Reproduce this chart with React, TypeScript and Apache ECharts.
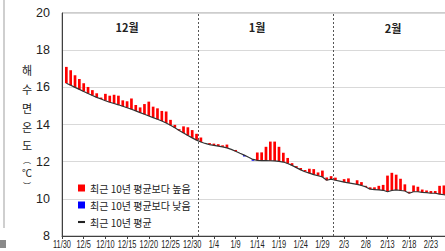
import React, { useEffect, useRef } from 'react';
import * as echarts from 'echarts';

// Day index 0 = 11/30, 1 = 12/1 ... 31 = 12/31, 32 = 1/1 ... 62 = 1/31, 63 = 2/1 ...
const dates: string[] = [
  '11/30',
  ...Array.from({ length: 31 }, (_, k) => `12/${k + 1}`),
  ...Array.from({ length: 31 }, (_, k) => `1/${k + 1}`),
  ...Array.from({ length: 29 }, (_, k) => `2/${k + 1}`),
];
const tickDays = [0, 5, 10, 15, 20, 25, 30, 35, 40, 45, 50, 55, 60, 65, 70, 75, 80, 85];

const monthLabels = ['12월', '1월', '2월'];
const monthBoundaries = [31.5, 62.5];

const legendNames = ['최근 10년 평균보다 높음', '최근 10년 평균보다 낮음', '최근 10년 평균'];
const yAxisNameChars = ['해', '수', '면', '온', '도', '︵', '℃', '︶'];

// 10-year mean, 12/1 .. 2/28
const meanDec = [16.22, 16.11, 16.0, 15.89, 15.78, 15.67, 15.56, 15.46, 15.37, 15.28, 15.2, 15.13, 15.06, 14.98, 14.9, 14.82, 14.73, 14.64, 14.55, 14.46, 14.37, 14.28, 14.19, 14.08, 13.96, 13.82, 13.68, 13.54, 13.41, 13.28, 13.16];
const meanJan = [13.06, 12.98, 12.92, 12.88, 12.84, 12.8, 12.74, 12.66, 12.56, 12.45, 12.35, 12.24, 12.12, 12.07, 12.06, 12.06, 12.05, 12.04, 12.02, 11.98, 11.9, 11.8, 11.68, 11.56, 11.46, 11.38, 11.3, 11.24, 11.18, 11.0, 11.06];
const meanFeb = [11.0, 10.95, 10.9, 10.86, 10.82, 10.78, 10.72, 10.64, 10.52, 10.5, 10.48, 10.46, 10.38, 10.45, 10.48, 10.45, 10.42, 10.3, 10.38, 10.38, 10.35, 10.33, 10.3, 10.3, 10.25, 10.22, 10.2, 10.2];

// observed SST, 12/1 .. 2/28
const sstDec = [17.1, 16.92, 16.65, 16.45, 16.22, 16.02, 15.85, 15.68, 15.45, 15.65, 15.55, 15.6, 15.55, 15.3, 15.25, 15.4, 15.05, 14.92, 15.1, 15.23, 14.96, 14.87, 14.73, 14.7, 14.25, 13.98, 13.75, 13.9, 13.85, 13.7, 13.5];
const sstJan = [13.3, 12.98, 13.0, 12.97, 12.94, 12.88, 12.92, 12.66, 12.63, 12.45, 12.28, 12.24, 12.05, 12.5, 12.5, 12.8, 13.08, 13.08, 12.8, 12.48, 12.2, 11.92, 11.76, 11.66, 11.55, 11.62, 11.6, 11.42, 11.52, 11.15, 11.22];
const sstFeb = [11.14, 10.95, 11.06, 11.1, 10.82, 11.0, 10.9, 10.7, 10.62, 10.62, 10.7, 10.75, 11.25, 11.4, 11.3, 11.08, 10.78, 10.38, 10.72, 10.65, 10.5, 10.45, 10.42, 10.42, 10.7, 10.72, 10.7, 10.65];

const meanAll = [...meanDec, ...meanJan, ...meanFeb];
const sstAll = [...sstDec, ...sstJan, ...sstFeb];

const KR = '"Noto Sans CJK KR", "Noto Sans", sans-serif';
const SANS = '"Liberation Sans", Arial, sans-serif';

export default function App() {
  const ref = useRef<HTMLDivElement>(null);
  useEffect(() => {
    if (!ref.current) return;
    const chart = echarts.init(ref.current, undefined, { renderer: 'svg' });
    const rows = meanAll.map((m, k) => [k + 1, m, sstAll[k]]);
    const high = rows.filter((r) => r[2] > r[1]);
    const low = rows.filter((r) => r[2] < r[1]);
    const renderBar = (color: string) => (params: any, api: any) => {
      const x = api.value(0);
      const p1 = api.coord([x, api.value(1)]);
      const p2 = api.coord([x, api.value(2)]);
      const w = api.size([1, 0])[0] * 0.62;
      return {
        type: 'rect',
        shape: { x: p1[0] - w / 2, y: Math.min(p1[1], p2[1]), width: w, height: Math.max(Math.abs(p2[1] - p1[1]), 1) },
        style: { fill: color },
      };
    };
    const renderTickLabel = (params: any, api: any) => {
      const i = api.value(0);
      const p = api.coord([i, api.value(1)]);
      return {
        type: 'text', x: p[0], y: p[1] + 4, scaleX: 0.74,
        style: { text: dates[i], fontSize: 10, fontFamily: SANS, fill: '#222', align: 'center', verticalAlign: 'top' },
      };
    };
    const textEl = (text: string, x: number, y: number, size: number, bold = false) => ({
      type: 'text', x, y,
      style: { text, fontSize: size, fontWeight: bold ? 'bold' : 'normal', fontFamily: KR, fill: '#222', align: 'center', verticalAlign: 'middle' },
    });
    const nameY = [70, 89, 108, 127, 145, 159.5, 172, 185];
    const nameSize = [11, 11, 11, 11, 11, 8, 10, 8];
    chart.setOption({
      animation: false,
      grid: { left: 62, top: 13, width: 95 * 4.34, height: 223, show: true, borderColor: '#9a9a9a', borderWidth: 1, backgroundColor: 'transparent' },
      xAxis: {
        type: 'value', min: 0, max: 95, interval: 5,
        axisLine: { show: true, lineStyle: { color: '#404040' } },
        axisTick: { show: true, length: 3, lineStyle: { color: '#404040' } },
        splitLine: { show: false },
        axisLabel: { show: false },
      },
      yAxis: {
        type: 'value', min: 8, max: 20, interval: 2,
        axisLine: { show: true, lineStyle: { color: '#404040' } },
        axisTick: { show: false },
        splitLine: { lineStyle: { color: '#d9d9d9' } },
        axisLabel: { fontSize: 12.5, color: '#222', margin: 12, fontFamily: SANS },
      },
      legend: {
        orient: 'vertical', left: 73, top: 178, itemWidth: 7, itemHeight: 7, itemGap: 7,
        textStyle: { fontSize: 10, color: '#222', fontFamily: KR },
        data: [
          { name: legendNames[0], icon: 'rect' },
          { name: legendNames[1], icon: 'rect' },
          { name: legendNames[2], icon: 'path://M0,0 L10,0 L10,3 L0,3 Z' },
        ],
      },
      series: [
        { name: legendNames[0], type: 'custom', data: high, renderItem: renderBar('#ff0000'), itemStyle: { color: '#ff0000' }, clip: true, encode: { x: 0, y: [1, 2] } },
        { name: legendNames[1], type: 'custom', data: low, renderItem: renderBar('#0000ff'), itemStyle: { color: '#0000ff' }, clip: true, encode: { x: 0, y: [1, 2] } },
        {
          name: legendNames[2], type: 'line', data: rows.map((r) => [r[0], r[1]]), showSymbol: false, symbol: 'none',
          lineStyle: { color: '#333', width: 1.2 }, itemStyle: { color: '#222' },
          markLine: {
            silent: true, symbol: 'none', label: { show: false },
            lineStyle: { color: '#555', type: [2, 2], width: 1 },
            data: monthBoundaries.map((b) => ({ xAxis: b })),
          },
        },
        {
          name: 'ticklabels', type: 'custom', silent: true, clip: false,
          data: tickDays.map((d) => [d, 8]), renderItem: renderTickLabel, encode: { x: 0, y: 1 },
        },
      ],
      graphic: [
        { type: 'rect', left: 3, top: 0, shape: { width: 2, height: 228 }, style: { fill: '#cfcfcf' } },
        { type: 'rect', left: 0, top: 240, shape: { width: 6, height: 8 }, style: { fill: '#8a8a8a' } },
        textEl(monthLabels[0], 127, 27, 11, true),
        textEl(monthLabels[1], 257, 27, 11, true),
        textEl(monthLabels[2], 393, 28, 11, true),
        ...yAxisNameChars.map((c, k) => textEl(c, 27, nameY[k], nameSize[k])),
      ],
    });
    return () => chart.dispose();
  }, []);
  return (
    <div style={{ position: 'fixed', left: 0, top: 0, width: 445, height: 251, overflow: 'hidden', background: '#fff' }}>
      <div ref={ref} style={{ width: 490, height: 251 }} />
    </div>
  );
}
